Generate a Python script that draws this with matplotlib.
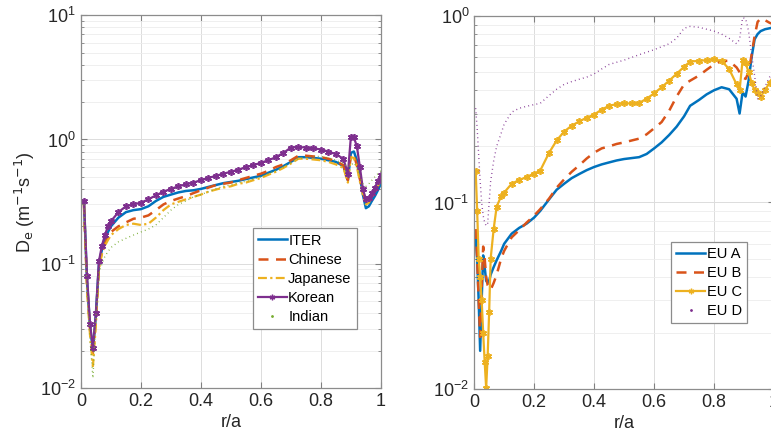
import numpy as np
import matplotlib
matplotlib.use('Agg')
import matplotlib.pyplot as plt
from matplotlib.lines import Line2D
from matplotlib.ticker import LogLocator, FixedLocator, NullLocator

plt.rcParams['font.family'] = ['Liberation Sans Narrow', 'Liberation Sans', 'DejaVu Sans']
plt.rcParams['mathtext.fontset'] = 'custom'
plt.rcParams['mathtext.rm'] = 'Liberation Sans Narrow'
plt.rcParams['mathtext.it'] = 'Liberation Sans Narrow'

# ---- left panel: ITER vs domestic agency models ----
x_left = [0.01, 0.02, 0.03, 0.04, 0.05, 0.06, 0.07, 0.08, 0.09, 0.1,
          0.125, 0.15, 0.175, 0.2, 0.225, 0.25, 0.275, 0.3, 0.325, 0.35,
          0.375, 0.4, 0.425, 0.45, 0.475, 0.5, 0.525, 0.55, 0.575, 0.6,
          0.625, 0.65, 0.675, 0.7, 0.725, 0.75, 0.775, 0.8, 0.825, 0.85,
          0.875, 0.89, 0.9, 0.91, 0.92, 0.93, 0.94, 0.95, 0.96, 0.97,
          0.98, 0.99, 1.0]
iter_de = [0.32, 0.075, 0.032, 0.02, 0.04, 0.1, 0.13, 0.155, 0.18, 0.2,
           0.235, 0.26, 0.27, 0.275, 0.29, 0.32, 0.345, 0.36, 0.375, 0.385,
           0.39, 0.4, 0.415, 0.43, 0.445, 0.455, 0.465, 0.48, 0.495, 0.51,
           0.54, 0.57, 0.61, 0.66, 0.72, 0.72, 0.71, 0.7, 0.68, 0.66,
           0.61, 0.47, 0.78, 0.8, 0.68, 0.5, 0.36, 0.28, 0.29, 0.32,
           0.35, 0.39, 0.44]
chinese_de = [0.3, 0.07, 0.03, 0.018, 0.037, 0.095, 0.125, 0.145, 0.165, 0.18,
              0.2, 0.215, 0.23, 0.235, 0.245, 0.27, 0.3, 0.32, 0.335, 0.35,
              0.37, 0.39, 0.41, 0.43, 0.44, 0.45, 0.47, 0.49, 0.51, 0.53,
              0.56, 0.6, 0.63, 0.68, 0.74, 0.74, 0.73, 0.72, 0.7, 0.67,
              0.62, 0.47, 0.76, 0.75, 0.62, 0.48, 0.38, 0.32, 0.33, 0.36,
              0.4, 0.44, 0.49]
japanese_de = [0.3, 0.065, 0.027, 0.015, 0.033, 0.09, 0.12, 0.14, 0.155, 0.17,
               0.19, 0.205, 0.21, 0.205, 0.21, 0.235, 0.27, 0.3, 0.315, 0.33,
               0.345, 0.36, 0.38, 0.395, 0.41, 0.42, 0.44, 0.45, 0.47, 0.49,
               0.52, 0.55, 0.59, 0.64, 0.7, 0.7, 0.69, 0.68, 0.66, 0.63,
               0.59, 0.45, 0.72, 0.71, 0.6, 0.46, 0.36, 0.3, 0.31, 0.34,
               0.38, 0.42, 0.47]
korean_de = [0.32, 0.08, 0.033, 0.021, 0.04, 0.105, 0.14, 0.17, 0.2, 0.22,
             0.26, 0.29, 0.3, 0.31, 0.33, 0.355, 0.38, 0.4, 0.42, 0.435,
             0.45, 0.47, 0.49, 0.51, 0.53, 0.55, 0.57, 0.6, 0.62, 0.65,
             0.68, 0.72, 0.78, 0.86, 0.87, 0.86, 0.85, 0.83, 0.8, 0.76,
             0.7, 0.53, 1.05, 1.04, 0.88, 0.6, 0.4, 0.33, 0.34, 0.37,
             0.41, 0.46, 0.52]
indian_de = [0.3, 0.06, 0.025, 0.012, 0.04, 0.085, 0.1, 0.115, 0.125, 0.135,
             0.15, 0.16, 0.17, 0.18, 0.19, 0.205, 0.235, 0.27, 0.3, 0.32,
             0.345, 0.36, 0.38, 0.4, 0.42, 0.43, 0.45, 0.46, 0.48, 0.5,
             0.53, 0.56, 0.6, 0.65, 0.7, 0.72, 0.73, 0.73, 0.71, 0.68,
             0.64, 0.6, 0.62, 0.65, 0.6, 0.5, 0.44, 0.42, 0.44, 0.47,
             0.5, 0.53, 0.56]

# ---- right panel: EU models ----
x_right = [0.005, 0.01, 0.015, 0.02, 0.025, 0.03, 0.035, 0.04, 0.045, 0.05,
           0.055, 0.065, 0.075, 0.09, 0.1, 0.125, 0.15, 0.175, 0.2, 0.22,
           0.25, 0.275, 0.3, 0.325, 0.35, 0.375, 0.4, 0.425, 0.45, 0.475,
           0.5, 0.525, 0.55, 0.575, 0.6, 0.625, 0.65, 0.675, 0.7, 0.72,
           0.75, 0.775, 0.8, 0.825, 0.85, 0.875, 0.885, 0.895, 0.905, 0.915,
           0.925, 0.935, 0.945, 0.955, 0.97, 0.985, 1.0]
eu_a = [0.065, 0.05, 0.03, 0.016, 0.03, 0.052, 0.045, 0.038, 0.037, 0.038,
        0.041, 0.045, 0.049, 0.055, 0.06, 0.068, 0.073, 0.077, 0.083, 0.09,
        0.104, 0.117, 0.126, 0.135, 0.142, 0.149, 0.155, 0.16, 0.164, 0.168,
        0.171, 0.173, 0.175, 0.182, 0.195, 0.21, 0.23, 0.255, 0.29, 0.33,
        0.355, 0.38, 0.4, 0.415, 0.405, 0.36, 0.3, 0.39, 0.37, 0.45,
        0.6, 0.75, 0.8, 0.83, 0.85, 0.86, 0.87]
eu_b = [0.072, 0.05, 0.03, 0.019, 0.035, 0.058, 0.05, 0.04, 0.036, 0.035,
        0.034, 0.037, 0.041, 0.05, 0.055, 0.065, 0.071, 0.078, 0.085, 0.092,
        0.105, 0.12, 0.133, 0.146, 0.158, 0.172, 0.185, 0.195, 0.2, 0.206,
        0.21, 0.215, 0.22, 0.232, 0.25, 0.27, 0.31, 0.37, 0.43, 0.45,
        0.48, 0.515, 0.55, 0.575, 0.575, 0.53, 0.5, 0.47, 0.46, 0.5,
        0.62, 0.78, 0.93, 0.97, 0.95, 0.92, 0.9]
eu_c = [0.148, 0.09, 0.05, 0.04, 0.03, 0.02, 0.014, 0.0101, 0.015, 0.026,
        0.05, 0.072, 0.095, 0.108, 0.113, 0.126, 0.132, 0.137, 0.143, 0.148,
        0.185, 0.215, 0.24, 0.258, 0.272, 0.285, 0.296, 0.315, 0.33, 0.337,
        0.34, 0.34, 0.342, 0.36, 0.385, 0.415, 0.45, 0.49, 0.535, 0.57,
        0.575, 0.58, 0.585, 0.575, 0.52, 0.43, 0.4, 0.58, 0.56, 0.5,
        0.44, 0.4, 0.385, 0.37, 0.4, 0.44, 0.48]
eu_d = [0.32, 0.25, 0.18, 0.13, 0.1, 0.085, 0.078, 0.075, 0.077, 0.1,
        0.13, 0.167, 0.2, 0.235, 0.263, 0.305, 0.32, 0.328, 0.335, 0.34,
        0.375, 0.405, 0.43, 0.445, 0.458, 0.47, 0.49, 0.52, 0.55, 0.565,
        0.58, 0.6, 0.62, 0.64, 0.66, 0.685, 0.71, 0.76, 0.86, 0.88,
        0.87, 0.85, 0.83, 0.8, 0.76, 0.71, 0.75, 0.98, 0.97, 0.83,
        0.62, 0.48, 0.36, 0.37, 0.42, 0.47, 0.5]

blue = '#0072BD'
orange = '#D95319'
yellow = '#EDB120'
purple = '#7E2F8E'
green = '#77AC30'
asterisk = (6, 2, 0)
dots = (0, (0.6, 2.4))


def style_axes(ax, top):
    ax.set_yscale('log')
    ax.set_xlim(0, 1)
    ax.set_ylim(1e-2, top)
    ax.xaxis.set_major_locator(FixedLocator([0, 0.2, 0.4, 0.6, 0.8, 1.0]))
    ax.set_xticklabels(['0', '0.2', '0.4', '0.6', '0.8', '1'])
    ax.xaxis.set_minor_locator(NullLocator())
    ax.yaxis.set_major_locator(LogLocator(base=10, numticks=10))
    ax.yaxis.set_minor_locator(LogLocator(base=10, subs=np.arange(2, 10), numticks=20))
    ax.grid(True, which='major', color='#dcdcdc', lw=0.7)
    ax.grid(True, which='minor', axis='y', color='#ececec', lw=0.6)
    ax.set_axisbelow(True)
    ax.tick_params(which='both', direction='in', top=True, right=True,
                   colors='#808080', labelcolor='#262626', labelsize=13)
    ax.tick_params(which='major', length=4)
    ax.tick_params(which='minor', length=2.5)
    for s in ax.spines.values():
        s.set_color('#8c8c8c')
        s.set_linewidth(0.9)
    ax.set_xlabel('r/a', fontsize=13, color='#262626', labelpad=3)


fig = plt.figure(figsize=(7.71, 4.34), dpi=100)
ax1 = fig.add_axes([0.105, 0.106, 0.389, 0.859])
ax2 = fig.add_axes([0.615, 0.104, 0.389, 0.859])

# left panel
ax1.plot(x_left, iter_de, color=blue, lw=1.8)
ax1.plot(x_left, chinese_de, color=orange, lw=1.8, ls=(0, (4, 3)))
ax1.plot(x_left, japanese_de, color=yellow, lw=1.6, ls=(0, (4, 1.5, 1, 1.5)))
ax1.plot(x_left, korean_de, color=purple, lw=1.6, marker=asterisk, ms=5, mew=1.2)
ax1.plot(x_left, indian_de, color=green, lw=1.0, ls=dots)
style_axes(ax1, 10)
ax1.set_ylabel(r'D$_e$ (m$^{-1}$s$^{-1}$)', fontsize=13, color='#262626', labelpad=2)

h1 = [Line2D([], [], color=blue, lw=1.8),
      Line2D([], [], color=orange, lw=1.8, ls=(0, (4, 3))),
      Line2D([], [], color=yellow, lw=1.6, ls=(0, (4, 1.5, 1, 1.5))),
      Line2D([], [], color=purple, lw=1.6, marker=asterisk, ms=4, mew=1.0),
      Line2D([], [], color=green, ls='none', marker='.', ms=2)]
leg1 = ax1.legend(h1, ['ITER', 'Chinese', 'Japanese', 'Korean', 'Indian'],
                  loc='upper left', bbox_to_anchor=(0.572, 0.428),
                  prop={'family': ['Liberation Sans', 'DejaVu Sans'], 'size': 10.5},
                  fancybox=False, framealpha=1, edgecolor='#8c8c8c',
                  handlelength=2.0, handletextpad=0.1, labelspacing=0.35,
                  borderpad=0.35, borderaxespad=0)
leg1.get_frame().set_linewidth(0.9)

# right panel
ax2.plot(x_right, eu_a, color=blue, lw=1.8)
ax2.plot(x_right, eu_b, color=orange, lw=1.8, ls=(0, (4, 3)))
ax2.plot(x_right, eu_c, color=yellow, lw=1.6, marker=asterisk, ms=5, mew=1.2)
ax2.plot(x_right, eu_d, color=purple, lw=1.0, ls=dots)
style_axes(ax2, 1)

h2 = [Line2D([], [], color=blue, lw=1.8),
      Line2D([], [], color=orange, lw=1.8, ls=(0, (4, 3))),
      Line2D([], [], color=yellow, lw=1.6, marker=asterisk, ms=4, mew=1.0),
      Line2D([], [], color=purple, ls='none', marker='.', ms=2)]
leg2 = ax2.legend(h2, ['EU A', 'EU B', 'EU C', 'EU D'],
                  loc='upper left', bbox_to_anchor=(0.657, 0.395),
                  prop={'family': ['Liberation Sans', 'DejaVu Sans'], 'size': 10.5},
                  fancybox=False, framealpha=1, edgecolor='#8c8c8c',
                  handlelength=2.0, handletextpad=0.1, labelspacing=0.35,
                  borderpad=0.35, borderaxespad=0)
leg2.get_frame().set_linewidth(0.9)

fig.savefig('out.png', dpi=100)
